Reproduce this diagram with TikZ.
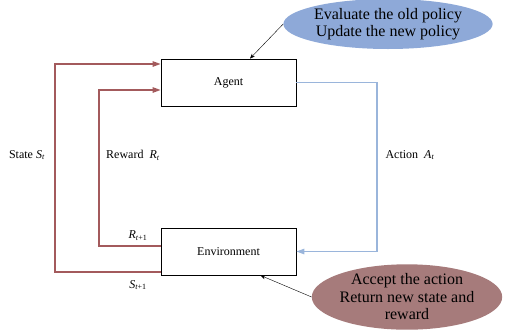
\documentclass[tikz,border=0pt]{standalone}
\usepackage{fontspec}
\setmainfont{Liberation Serif}
\usepackage{tikz}
\usetikzlibrary{arrows.meta, shapes.geometric}
\definecolor{rwdred}{HTML}{A35A5C}
\definecolor{actblue}{HTML}{9AB5DB}
\definecolor{bubblue}{HTML}{8EA9D8}
\definecolor{bubred}{HTML}{A67B7B}

\begin{document}
\begin{tikzpicture}[x=1pt, y=-1pt,
    box/.style={draw, thick, minimum width=135pt, minimum height=47pt, font=\fontsize{12}{13}\selectfont},
    bubble/.style={ellipse, inner sep=0pt, align=center, font=\fontsize{16}{17.5}\selectfont},
    lbl/.style={font=\fontsize{12}{13}\selectfont},
    redline/.style={draw=rwdred, line width=1.2pt, -{Triangle[length=8pt,width=5.5pt]}},
    blueline/.style={draw=actblue, line width=1.2pt, -{Triangle[length=8pt,width=5.5pt]}},
    note/.style={draw=black, thin, -{Stealth[length=5pt,width=4pt]}}]
            \useasboundingbox (0,0) rectangle (508,330);
            \node[box] at (228.5, 82.5)   (agent) {Agent};
            \node[box] at (228.5, 251.5)  (env) {Environment};
            \node[bubble, fill=bubblue, minimum width=200pt, minimum height=50pt] at (388, 24)  (eval) {Evaluate the old policy\\Update the new policy};
            \node[bubble, fill=bubred, minimum width=190pt, minimum height=52pt] at (407, 297) (accept) {Accept the action\\Return new state and\\reward};

            \node[lbl] at (27, 155)   (state) {State \textit{S}\textsubscript{\textit{t}}};
            \node[lbl] at (133, 155)  (reward) {Reward\enspace\textit{R}\textsubscript{\textit{t}}};
            \node[lbl] at (138, 236)  (rnext) {\textit{R}\textsubscript{\textit{t}+1}};
            \node[lbl] at (138, 285)  (snext) {\textit{S}\textsubscript{\textit{t}+1}};
            \node[lbl] at (410, 155)  (action) {Action\enspace\textit{A}\textsubscript{\textit{t}}};

            \draw [redline] ([yshift=-20.5pt]env.west) -| (55, 64) -- ([yshift=18.5pt]agent.west);
            \draw [redline] ([yshift=5.5pt]env.west) -| (99, 90) -- ([yshift=-7.5pt]agent.west);
            \draw [blueline] (agent.east) -| (377, 251.5) -- (env.east);
            \draw [note] (eval.west) -- ([xshift=21.5pt]agent.north);
            \draw [note] (accept.west) -- ([xshift=32pt]env.south);
        \end{tikzpicture}
\end{document}
